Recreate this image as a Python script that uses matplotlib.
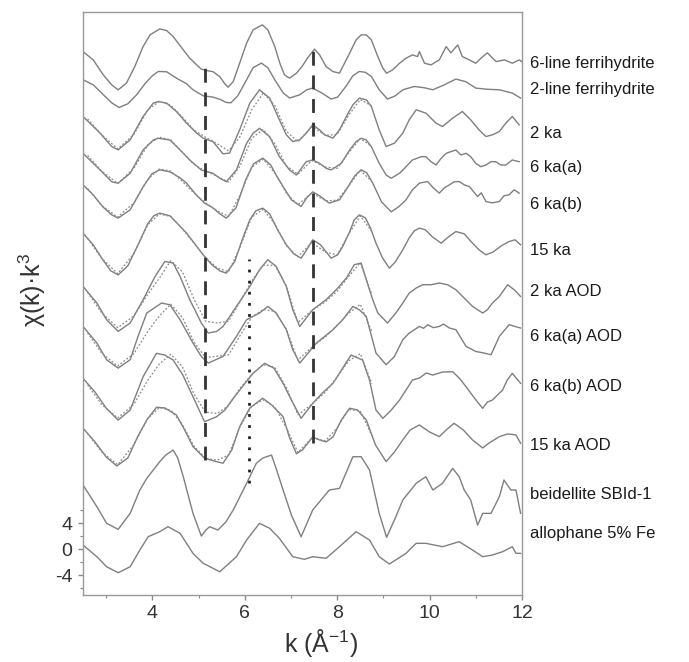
import numpy as np
import matplotlib
matplotlib.use('Agg')
import matplotlib.pyplot as plt

plt.rcParams['font.family'] = ['Liberation Sans', 'DejaVu Sans']
plt.rcParams['axes.unicode_minus'] = False
plt.rcParams['mathtext.fontset'] = 'custom'
plt.rcParams['mathtext.rm'] = 'Liberation Sans'
plt.rcParams['mathtext.it'] = 'Liberation Sans'

# measured spectra: (k, chi*k^3) pairs, one array per sample
ferri6 = np.array([(2.5,0.97),(2.72,-0.31),(2.94,-2.62),(3.12,-4.15),(3.26,-4.92),(3.44,-3.89),(3.62,-1.34),(3.8,1.74),(3.95,3.54),(4.16,4.46),(4.31,4.2),(4.45,3.28),(4.56,2.26),(4.67,1.23),(4.81,-0.05),(4.96,-1.08),(5.06,-1.74),(5.21,-2.0),(5.31,-2.11),(5.46,-2.88),(5.57,-4.0),(5.64,-4.51),(5.75,-3.65),(5.89,-0.82),(6.04,2.26),(6.18,4.31),(6.38,5.08),(6.5,4.31),(6.65,1.74),(6.76,-0.82),(6.86,-2.62),(6.97,-3.12),(7.12,-2.35),(7.25,-1.23),(7.36,0.0),(7.51,1.34),(7.62,0.46),(7.76,-1.34),(7.91,-2.11),(8.05,-2.35),(8.27,0.72),(8.41,2.77),(8.52,3.54),(8.63,3.54),(8.74,2.77),(8.88,0.2),(8.99,-1.59),(9.07,-2.35),(9.2,-1.85),(9.35,-0.82),(9.49,-0.05),(9.63,0.46),(9.74,0.2),(9.78,0.97),(9.89,-0.82),(10.03,-1.08),(10.21,-0.31),(10.36,1.74),(10.46,0.77),(10.61,2.0),(10.71,0.2),(10.86,-0.31),(11.0,-0.82),(11.12,0.0),(11.25,0.77),(11.44,-0.57),(11.62,-0.31),(11.79,-0.82),(11.94,-0.31),(12.0,-0.6)])
ferri2 = np.array([(2.5,1.23),(2.72,0.46),(2.94,-1.08),(3.12,-2.31),(3.28,-3.03),(3.47,-2.46),(3.66,-1.08),(3.84,0.62),(4.0,1.85),(4.13,2.51),(4.31,2.46),(4.52,1.49),(4.74,0.62),(4.88,-0.31),(5.1,-1.23),(5.31,-1.43),(5.46,-1.77),(5.6,-2.26),(5.7,-2.31),(5.85,-1.23),(6.04,1.23),(6.18,3.08),(6.36,3.8),(6.5,3.08),(6.65,1.23),(6.83,-0.77),(6.97,-1.58),(7.19,-1.08),(7.34,-0.31),(7.47,-0.05),(7.66,-0.77),(7.87,-1.74),(8.01,-1.43),(8.2,0.31),(8.34,1.85),(8.48,2.51),(8.61,2.38),(8.74,1.74),(8.91,-0.31),(9.09,-1.74),(9.26,-1.23),(9.42,-0.31),(9.67,0.2),(9.89,0.0),(10.07,-0.31),(10.32,0.46),(10.57,1.34),(10.79,0.92),(11.0,-0.05),(11.25,-0.23),(11.51,-0.31),(11.79,-0.82),(11.97,-1.58)])
ka2 = np.array([(2.5,1.28),(2.87,-1.28),(3.12,-3.34),(3.26,-3.85),(3.52,-2.31),(3.8,1.28),(4.02,3.34),(4.13,3.58),(4.31,3.34),(4.52,2.05),(4.74,0.26),(4.96,-1.28),(5.1,-2.05),(5.31,-2.57),(5.46,-3.85),(5.53,-4.46),(5.67,-4.35),(5.89,-0.77),(6.11,3.34),(6.32,5.38),(6.54,4.11),(6.75,0.77),(6.9,-1.54),(7.04,-2.57),(7.19,-2.31),(7.33,-1.28),(7.47,0.0),(7.62,-0.77),(7.73,-1.54),(7.91,-2.05),(8.05,-0.77),(8.2,1.28),(8.34,3.08),(8.48,4.11),(8.63,3.85),(8.74,2.82),(8.91,-0.77),(9.06,-3.34),(9.24,-2.82),(9.42,-1.28),(9.56,0.77),(9.71,2.31),(9.92,1.8),(10.14,0.26),(10.28,-0.26),(10.5,1.03),(10.71,2.05),(10.89,0.77),(11.07,-0.77),(11.22,-1.8),(11.36,-1.54),(11.51,-1.03),(11.65,0.26),(11.79,1.28),(11.94,0.0)])
ka6a = np.array([(2.5,0.72),(2.87,-1.85),(3.12,-3.65),(3.26,-3.89),(3.52,-2.35),(3.8,1.23),(4.02,2.77),(4.13,3.03),(4.38,2.77),(4.6,1.23),(4.81,-0.31),(5.06,-1.85),(5.31,-2.35),(5.46,-3.12),(5.6,-3.65),(5.82,-1.85),(6.04,2.26),(6.18,3.8),(6.32,4.57),(6.54,3.28),(6.75,0.2),(6.97,-1.85),(7.12,-2.62),(7.33,-0.57),(7.47,-0.31),(7.62,-0.82),(7.76,-1.58),(7.87,-1.85),(7.98,-1.34),(8.09,-0.82),(8.27,1.23),(8.41,2.51),(8.52,3.03),(8.63,2.77),(8.74,1.74),(8.91,-0.82),(9.06,-2.62),(9.17,-3.12),(9.35,-2.35),(9.49,-1.34),(9.63,-0.31),(9.82,0.2),(9.92,0.2),(10.03,-0.57),(10.14,-1.08),(10.25,-0.05),(10.36,0.72),(10.46,0.97),(10.57,1.23),(10.68,0.46),(10.79,0.72),(10.89,0.2),(11.0,-0.82),(11.11,-1.34),(11.22,-1.08),(11.33,-0.57),(11.43,-0.57),(11.54,-1.08),(11.65,-1.08),(11.79,-0.31),(11.94,-0.57)])
ka6b = np.array([(2.5,0.77),(2.72,-0.77),(2.93,-2.62),(3.12,-3.85),(3.26,-4.35),(3.52,-3.08),(3.8,0.46),(3.99,2.46),(4.16,3.08),(4.38,2.77),(4.6,1.85),(4.74,1.03),(4.95,-0.77),(5.13,-2.05),(5.31,-2.77),(5.46,-3.69),(5.6,-4.35),(5.81,-2.77),(6.02,1.54),(6.19,4.0),(6.39,4.88),(6.56,3.85),(6.69,2.15),(6.83,0.51),(7.01,-1.54),(7.22,-2.57),(7.34,-1.23),(7.47,-0.31),(7.62,-0.92),(7.83,-2.05),(8.05,-1.54),(8.22,0.31),(8.38,2.15),(8.52,3.08),(8.64,2.62),(8.77,1.03),(8.96,-1.85),(9.17,-3.38),(9.33,-2.62),(9.49,-1.54),(9.63,0.0),(9.78,1.03),(9.96,1.28),(10.08,0.31),(10.21,-0.51),(10.32,0.31),(10.43,0.77),(10.53,1.23),(10.64,1.28),(10.75,0.77),(10.86,0.51),(11.04,-1.03),(11.12,-0.46),(11.22,-1.8),(11.36,-2.0),(11.51,-1.8),(11.61,-0.92),(11.72,-0.77),(11.83,0.0),(11.94,-0.51)])
ka15 = np.array([(2.5,1.34),(2.72,-0.46),(2.93,-2.77),(3.1,-4.46),(3.26,-5.08),(3.47,-3.69),(3.69,-0.46),(3.9,2.77),(4.03,4.0),(4.16,4.42),(4.38,4.0),(4.55,2.77),(4.74,1.34),(4.92,-0.31),(5.1,-2.0),(5.29,-3.54),(5.46,-4.46),(5.6,-4.82),(5.78,-3.08),(5.96,0.62),(6.11,3.38),(6.24,4.77),(6.39,5.18),(6.54,4.31),(6.71,1.85),(6.9,-0.46),(7.06,-1.85),(7.22,-2.51),(7.34,-1.23),(7.47,0.31),(7.64,-0.46),(7.87,-2.51),(8.01,-2.0),(8.12,-0.72),(8.27,1.54),(8.37,3.38),(8.48,4.15),(8.61,3.69),(8.72,2.15),(8.84,-0.2),(8.98,-2.46),(9.13,-4.05),(9.26,-3.08),(9.42,-1.23),(9.56,0.62),(9.67,1.69),(9.78,2.11),(9.91,1.85),(10.06,0.77),(10.25,-0.2),(10.41,0.77),(10.57,1.58),(10.75,1.23),(10.93,-0.2),(11.07,-1.23),(11.22,-2.0),(11.38,-1.54),(11.55,-0.62),(11.72,0.05),(11.85,0.31),(11.97,-0.46)])
ka2_aod = np.array([(2.5,1.74),(2.8,-0.82),(3.01,-3.38),(3.26,-5.18),(3.52,-3.89),(3.8,-0.31),(4.06,3.28),(4.27,5.58),(4.45,5.34),(4.6,3.28),(4.81,-0.31),(4.92,-1.85),(5.06,-3.89),(5.21,-5.43),(5.39,-5.18),(5.53,-4.42),(5.82,-1.34),(6.11,1.74),(6.32,4.31),(6.5,5.85),(6.68,4.82),(6.9,1.74),(7.04,-1.85),(7.19,-4.42),(7.47,-1.85),(7.76,-0.31),(7.98,1.23),(8.2,3.03),(8.37,5.08),(8.52,5.34),(8.63,2.77),(8.77,-0.31),(8.88,-2.35),(9.09,-3.89),(9.27,-2.35),(9.42,-0.82),(9.56,0.72),(9.71,1.49),(9.85,2.0),(10.03,2.0),(10.21,2.26),(10.39,2.0),(10.57,1.23),(10.75,-0.05),(10.93,-1.34),(11.15,-2.35),(11.25,-1.85),(11.36,-0.82),(11.51,0.2),(11.69,2.0),(11.83,1.23),(11.97,0.2)])
ka6a_aod = np.array([(2.5,1.58),(2.8,-0.97),(3.01,-3.54),(3.26,-4.82),(3.52,-3.54),(3.69,0.05),(3.88,3.65),(4.2,5.18),(4.38,4.92),(4.6,2.62),(4.88,-0.97),(5.06,-3.03),(5.21,-4.05),(5.53,-3.03),(5.82,0.05),(6.04,2.62),(6.32,3.65),(6.5,4.66),(6.68,3.65),(6.9,1.08),(7.04,-2.0),(7.19,-4.05),(7.55,-0.97),(7.91,1.08),(8.12,2.62),(8.34,4.66),(8.48,4.15),(8.63,3.12),(8.84,-2.51),(9.06,-4.31),(9.24,-3.03),(9.42,-0.46),(9.56,0.57),(9.78,1.58),(9.87,1.3),(9.96,1.85),(10.08,1.4),(10.21,1.58),(10.3,1.95),(10.43,1.34),(10.57,1.08),(10.79,-1.49),(11.0,-2.26),(11.18,-2.51),(11.33,-2.77),(11.51,0.05),(11.72,1.85),(11.97,1.34)])
ka6b_aod = np.array([(2.5,1.8),(2.76,-0.31),(3.0,-2.77),(3.26,-4.62),(3.52,-3.08),(3.8,2.05),(4.09,5.65),(4.27,5.38),(4.45,4.62),(4.66,2.31),(4.88,-1.03),(5.13,-4.88),(5.39,-4.11),(5.57,-3.08),(5.75,-1.28),(5.96,0.62),(6.18,2.57),(6.43,4.11),(6.63,3.38),(6.83,1.03),(7.01,-1.54),(7.22,-4.35),(7.47,-2.05),(7.68,-0.46),(7.91,1.03),(8.12,3.38),(8.3,5.38),(8.55,4.62),(8.7,1.54),(8.84,-3.08),(8.99,-4.35),(9.17,-3.08),(9.35,-1.54),(9.63,1.54),(9.78,1.85),(9.93,2.62),(10.07,2.31),(10.28,2.77),(10.5,2.82),(10.64,1.85),(10.79,0.51),(10.97,-1.23),(11.15,-2.82),(11.25,-1.85),(11.36,-1.54),(11.58,0.0),(11.68,1.54),(11.79,2.57),(11.97,1.03)])
ka15_aod = np.array([(2.5,0.72),(2.76,-1.38),(3.0,-3.69),(3.23,-5.08),(3.47,-3.85),(3.69,-0.46),(3.88,2.0),(4.09,3.95),(4.27,3.85),(4.52,2.77),(4.7,0.46),(4.88,-2.11),(5.13,-3.89),(5.39,-4.42),(5.53,-4.66),(5.72,-2.62),(5.89,0.97),(6.11,3.85),(6.39,5.34),(6.58,4.31),(6.83,2.51),(6.97,-0.77),(7.12,-3.2),(7.25,-2.6),(7.47,-0.62),(7.62,-1.08),(7.76,-1.38),(7.91,-0.62),(8.09,2.0),(8.27,3.8),(8.44,3.54),(8.63,2.0),(8.83,-1.85),(9.06,-4.42),(9.24,-2.92),(9.42,-1.08),(9.58,0.46),(9.78,1.23),(10.0,0.15),(10.21,-0.57),(10.36,0.46),(10.53,1.49),(10.73,0.46),(10.93,-1.08),(11.15,-2.31),(11.29,-1.54),(11.51,-0.57),(11.69,-0.15),(11.87,-0.31),(11.97,-1.58)])
beidellite = np.array([(2.5,1.54),(2.8,-1.8),(3.01,-4.35),(3.26,-5.28),(3.52,-2.82),(3.73,0.77),(3.88,2.57),(4.16,5.12),(4.29,6.15),(4.45,6.92),(4.55,5.69),(4.67,2.82),(4.88,-2.82),(5.06,-6.31),(5.16,-5.38),(5.24,-4.88),(5.42,-5.38),(5.59,-4.15),(5.75,-2.31),(6.04,1.8),(6.25,4.88),(6.39,5.69),(6.58,6.15),(6.69,3.85),(6.83,0.77),(7.01,-3.08),(7.22,-6.42),(7.47,-2.31),(7.83,0.77),(8.05,1.03),(8.34,5.89),(8.52,5.89),(8.7,3.85),(8.91,-2.82),(9.07,-6.51),(9.27,-3.34),(9.42,-0.77),(9.71,1.8),(9.92,2.82),(10.07,0.77),(10.28,1.8),(10.5,4.11),(10.64,2.82),(10.75,0.77),(10.89,-0.77),(11.04,-4.62),(11.15,-2.82),(11.33,-2.82),(11.51,-0.26),(11.61,2.31),(11.76,0.77),(11.87,0.77),(11.97,-2.82)])
allophane = np.array([(2.5,0.66),(2.8,-1.14),(3.01,-2.68),(3.26,-3.6),(3.52,-2.68),(3.73,-0.11),(3.91,1.94),(4.16,2.71),(4.34,3.48),(4.6,2.46),(4.88,-0.62),(5.1,-2.15),(5.46,-3.45),(5.82,-1.14),(6.04,1.43),(6.32,4.0),(6.54,3.23),(6.75,1.69),(7.04,-1.14),(7.29,-1.54),(7.47,-1.14),(7.76,-1.38),(8.05,0.4),(8.41,2.71),(8.7,1.43),(8.91,-1.14),(9.13,-2.26),(9.49,-0.62),(9.71,0.92),(9.92,0.92),(10.28,0.4),(10.64,1.17),(10.93,-0.11),(11.15,-1.14),(11.36,-0.88),(11.58,-0.37),(11.79,0.4),(11.87,-0.62),(11.97,-0.62)])

# LCF fits (dotted), common k grid
fit_k = [2.6, 2.9, 3.25, 3.6, 3.9, 4.15, 4.4, 4.65, 4.9, 5.15, 5.4, 5.65, 5.9, 6.15, 6.4, 6.65, 6.9, 7.15, 7.45, 7.75, 8.0, 8.25, 8.5, 8.75]
fit_ka2 = [0.9,-1.5,-3.7,-1.5,2.3,3.6,3.0,1.2,-0.8,-1.9,-2.9,-4.0,-1.8,2.3,4.9,3.0,-1.0,-2.6,-0.3,-1.6,-1.5,1.5,3.9,2.9]
fit_ka6a = [0.4,-2.0,-3.9,-1.6,2.0,3.2,2.8,0.9,-1.0,-2.0,-2.8,-3.7,-1.2,3.0,4.4,2.2,-1.2,-2.5,-0.4,-1.4,-1.6,0.8,3.0,1.8]
fit_ka6b = [0.2,-2.4,-4.2,-2.0,1.6,3.2,2.9,1.3,-0.5,-2.0,-3.2,-4.1,-0.8,3.5,4.7,2.6,-0.5,-2.3,-0.5,-1.7,-1.6,0.6,3.0,1.3]
fit_ka15 = [0.5,-2.5,-4.9,-1.8,2.6,4.3,3.9,2.0,-0.2,-2.4,-4.0,-4.6,-0.8,3.8,5.0,2.8,-0.6,-2.3,-0.1,-1.6,-2.0,1.2,4.0,1.6]
fit_ka2_aod = [0.8,-2.3,-4.6,-2.8,0.5,3.0,5.7,4.0,-0.2,-3.6,-3.9,-3.6,-0.6,2.6,5.0,5.0,1.8,-3.8,-2.0,-0.6,1.0,3.3,5.4,0.5]
fit_ka6a_aod = [0.6,-2.5,-4.5,-2.6,0.8,3.2,5.0,3.0,-0.8,-3.2,-3.0,-2.8,0.2,3.0,4.2,3.9,1.2,-3.6,-1.6,0.0,1.8,3.6,5.0,0.8]
fit_ka6b_aod = [0.8,-2.2,-4.3,-2.2,1.5,4.0,5.5,3.6,-0.6,-3.4,-3.6,-2.4,0.3,2.4,3.9,3.5,0.4,-3.8,-2.2,-0.3,2.0,4.5,5.6,1.0]
fit_ka15_aod = [-0.1,-2.9,-4.9,-1.8,2.2,3.9,3.5,1.3,-2.0,-3.9,-4.2,-3.4,1.0,4.1,5.1,4.0,0.8,-3.0,-0.8,-1.2,0.8,3.6,3.4,-0.4]

names = ['6-line ferrihydrite', '2-line ferrihydrite', '2 ka', '6 ka(a)', '6 ka(b)', '15 ka',
         '2 ka AOD', '6 ka(a) AOD', '6 ka(b) AOD', '15 ka AOD', 'beidellite SBId-1', 'allophane 5% Fe']
spectra = [ferri6, ferri2, ka2, ka6a, ka6b, ka15, ka2_aod, ka6a_aod, ka6b_aod, ka15_aod, beidellite, allophane]
fits = [None, None, fit_ka2, fit_ka6a, fit_ka6b, fit_ka15, fit_ka2_aod, fit_ka6a_aod, fit_ka6b_aod, fit_ka15_aod, None, None]
offsets = [75.6, 71.0, 65.3, 60.2, 55.3, 47.3, 38.7, 32.7, 24.5, 17.9, 8.35, 0.0]
label_y = [74.8, 70.8, 64.0, 58.7, 53.0, 46.0, 39.6, 32.7, 25.0, 16.0, 8.4, 2.5]

fig = plt.figure(figsize=(6.89, 6.62), dpi=100)
ax = fig.add_axes([0.1205, 0.1012, 0.6371, 0.8807])

line_col = '#7f7f7f'
for i in range(len(spectra)):
    d = spectra[i]
    ax.plot(d[:, 0], d[:, 1] + offsets[i], color=line_col, lw=1.0)
    if fits[i] is not None:
        ax.plot(fit_k, np.array(fits[i]) + offsets[i], color='#8a8a8a', lw=0.9, linestyle=(0, (1.5, 1.5)))
    ax.text(12.17, label_y[i], names[i], fontsize=12, color='#1a1a1a', va='center', ha='left', clip_on=False)

# reference lines
ax.plot([5.13, 5.13], [13.7, 75.3], color='#333333', lw=2, linestyle=(0, (5, 3.5)))
ax.plot([7.47, 7.47], [16.4, 77.4], color='#333333', lw=2, linestyle=(0, (5, 3.5)))
ax.plot([6.09, 6.09], [10.2, 44.7], color='#222222', lw=2, linestyle=(0, (1, 3)))

ax.set_xlim(2.5, 12)
ax.set_ylim(-7.03, 82.66)
ax.set_xticks([4, 6, 8, 10, 12])
ax.set_xticks([3, 5, 7, 9, 11], minor=True)
ax.set_yticks([-4, 0, 4])
ax.set_yticks([-6, -2, 2, 6], minor=True)
ax.tick_params(which='both', direction='out', color='#888888', labelsize=14, labelcolor='#333333')
ax.tick_params(which='major', length=3.5, width=1, pad=4)
ax.tick_params(which='minor', length=2, width=0.8)
for s in ax.spines.values():
    s.set_color('#999999')
    s.set_linewidth(1.0)

fig.text(32 / 689, 1 - 290 / 662, 'χ(k)·k$^3$', rotation=90, fontsize=18,
         color='#333333', ha='center', va='center')
fig.text(321 / 689, 1 - 643 / 662, 'k (Å$^{-1}$)', fontsize=18,
         color='#333333', ha='center', va='center')

plt.savefig('out.png', dpi=100)
plt.close()
